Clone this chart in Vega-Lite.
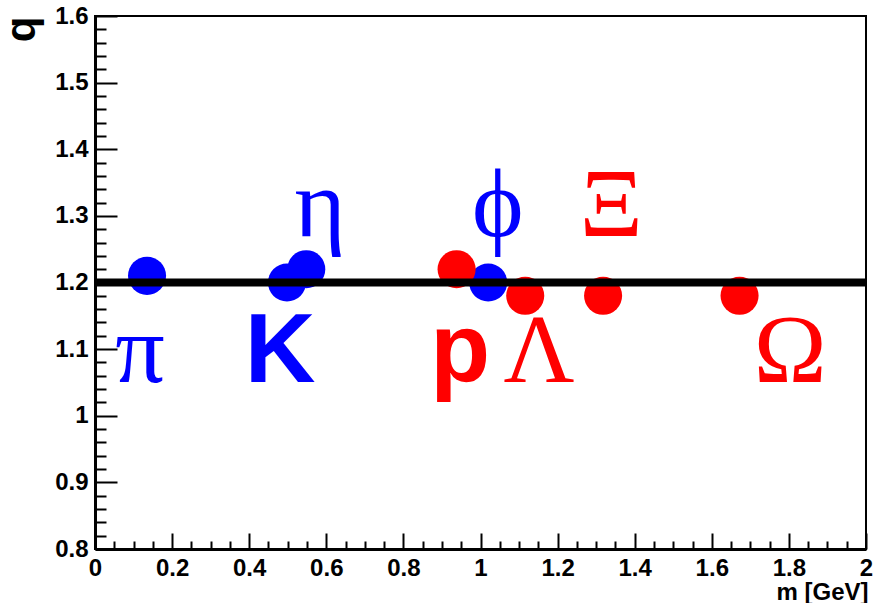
{
  "$schema": "https://vega.github.io/schema/vega-lite/v6.json",
  "width": 771,
  "height": 533,
  "autosize": {"type": "none"},
  "padding": {"left": 95, "top": 16, "right": 7, "bottom": 54},
  "background": "white",
  "config": {
    "view": {"stroke": "black", "strokeWidth": 2},
    "axis": {
      "domainColor": "black",
      "domainWidth": 3,
      "tickColor": "black",
      "tickWidth": 2,
      "grid": false,
      "labelFont": "Liberation Sans",
      "labelFontWeight": "bold",
      "labelFontSize": 24,
      "labelColor": "black",
      "titleFont": "Liberation Sans",
      "titleFontWeight": "bold",
      "titleColor": "black"
    }
  },
  "datasets": {
    "points": [
      {"particle": "pi", "m": 0.135, "q": 1.21, "group": "meson"},
      {"particle": "K", "m": 0.498, "q": 1.20, "group": "meson"},
      {"particle": "eta", "m": 0.548, "q": 1.22, "group": "meson"},
      {"particle": "phi", "m": 1.02, "q": 1.20, "group": "meson"},
      {"particle": "p", "m": 0.938, "q": 1.22, "group": "baryon"},
      {"particle": "Lambda", "m": 1.116, "q": 1.18, "group": "baryon"},
      {"particle": "Xi", "m": 1.318, "q": 1.18, "group": "baryon"},
      {"particle": "Omega", "m": 1.672, "q": 1.18, "group": "baryon"}
    ],
    "labels": [
      {"text": "π", "m": 0.117, "q": 1.05, "group": "meson", "style": "greek"},
      {"text": "K", "m": 0.48, "q": 1.05, "group": "meson", "style": "latin"},
      {"text": "η", "m": 0.584, "q": 1.27, "group": "meson", "style": "greek"},
      {"text": "ϕ", "m": 1.045, "q": 1.27, "group": "meson", "style": "greek"},
      {"text": "p", "m": 0.947, "q": 1.05, "group": "baryon", "style": "latin"},
      {"text": "Λ", "m": 1.152, "q": 1.05, "group": "baryon", "style": "greek"},
      {"text": "Ξ", "m": 1.339, "q": 1.27, "group": "baryon", "style": "greek"},
      {"text": "Ω", "m": 1.803, "q": 1.05, "group": "baryon", "style": "greek"}
    ],
    "reference": [{"q": 1.2}]
  },
  "resolve": {"axis": {"x": "independent", "y": "independent"}},
  "layer": [
    {
      "data": {"name": "points"},
      "mark": {"type": "point", "opacity": 0},
      "encoding": {
        "x": {"field": "m", "type": "quantitative", "scale": {"domain": [0, 2], "nice": false, "zero": false},
          "axis": {"orient": "bottom", "title": null, "labels": false, "tickSize": -8, "domain": false,
            "values": [0.05,0.1,0.15,0.25,0.3,0.35,0.45,0.5,0.55,0.65,0.7,0.75,0.85,0.9,0.95,1.05,1.1,1.15,1.25,1.3,1.35,1.45,1.5,1.55,1.65,1.7,1.75,1.85,1.9,1.95]}},
        "y": {"field": "q", "type": "quantitative", "scale": {"domain": [0.8, 1.6], "nice": false, "zero": false},
          "axis": {"orient": "left", "title": null, "labels": false, "tickSize": -11, "domain": false,
            "values": [0.82,0.84,0.86,0.88,0.92,0.94,0.96,0.98,1.02,1.04,1.06,1.08,1.12,1.14,1.16,1.18,1.22,1.24,1.26,1.28,1.32,1.34,1.36,1.38,1.42,1.44,1.46,1.48,1.52,1.54,1.56,1.58]}}
      }
    },
    {
      "data": {"name": "points"},
      "mark": {"type": "circle", "size": 1450, "opacity": 1},
      "encoding": {
        "x": {"field": "m", "type": "quantitative",
          "axis": {"orient": "bottom", "values": [0,0.2,0.4,0.6,0.8,1,1.2,1.4,1.6,1.8,2], "format": "~g",
            "tickSize": -16, "labelPadding": 23, "labelFlush": false,
            "title": "m [GeV]", "titleFontSize": 24, "titleAnchor": "end", "titleAlign": "right",
            "titleBaseline": "alphabetic", "titleX": 773, "titleY": 50}},
        "y": {"field": "q", "type": "quantitative",
          "axis": {"orient": "left", "values": [0.8,0.9,1,1.1,1.2,1.3,1.4,1.5,1.6], "format": "~g",
            "tickSize": -22, "labelPadding": 29, "labelFlush": false,
            "title": "q", "titleFontSize": 42, "titleAngle": -90, "titleAlign": "right",
            "titleBaseline": "top", "titleX": -94, "titleY": 0}},
        "color": {"field": "group", "type": "nominal",
          "scale": {"domain": ["meson", "baryon"], "range": ["#0000ff", "#ff0000"]}, "legend": null},
        "order": {"field": "group", "sort": "descending"}
      }
    },
    {
      "data": {"name": "reference"},
      "mark": {"type": "rule", "color": "black", "strokeWidth": 8},
      "encoding": {"y": {"field": "q", "type": "quantitative", "axis": null}}
    },
    {
      "data": {"name": "labels"},
      "transform": [{"filter": "datum.style === 'greek'"}],
      "mark": {"type": "text", "font": "Liberation Serif", "fontSize": 98, "align": "center", "baseline": "alphabetic"},
      "encoding": {
        "x": {"field": "m", "type": "quantitative", "axis": null},
        "y": {"field": "q", "type": "quantitative", "axis": null},
        "text": {"field": "text"},
        "color": {"field": "group", "type": "nominal",
          "scale": {"domain": ["meson", "baryon"], "range": ["#0000ff", "#ff0000"]}, "legend": null}
      }
    },
    {
      "data": {"name": "labels"},
      "transform": [{"filter": "datum.style === 'latin'"}],
      "mark": {"type": "text", "font": "Liberation Sans", "fontWeight": "bold", "fontSize": 98, "align": "center", "baseline": "alphabetic"},
      "encoding": {
        "x": {"field": "m", "type": "quantitative", "axis": null},
        "y": {"field": "q", "type": "quantitative", "axis": null},
        "text": {"field": "text"},
        "color": {"field": "group", "type": "nominal",
          "scale": {"domain": ["meson", "baryon"], "range": ["#0000ff", "#ff0000"]}, "legend": null}
      }
    }
  ]
}
